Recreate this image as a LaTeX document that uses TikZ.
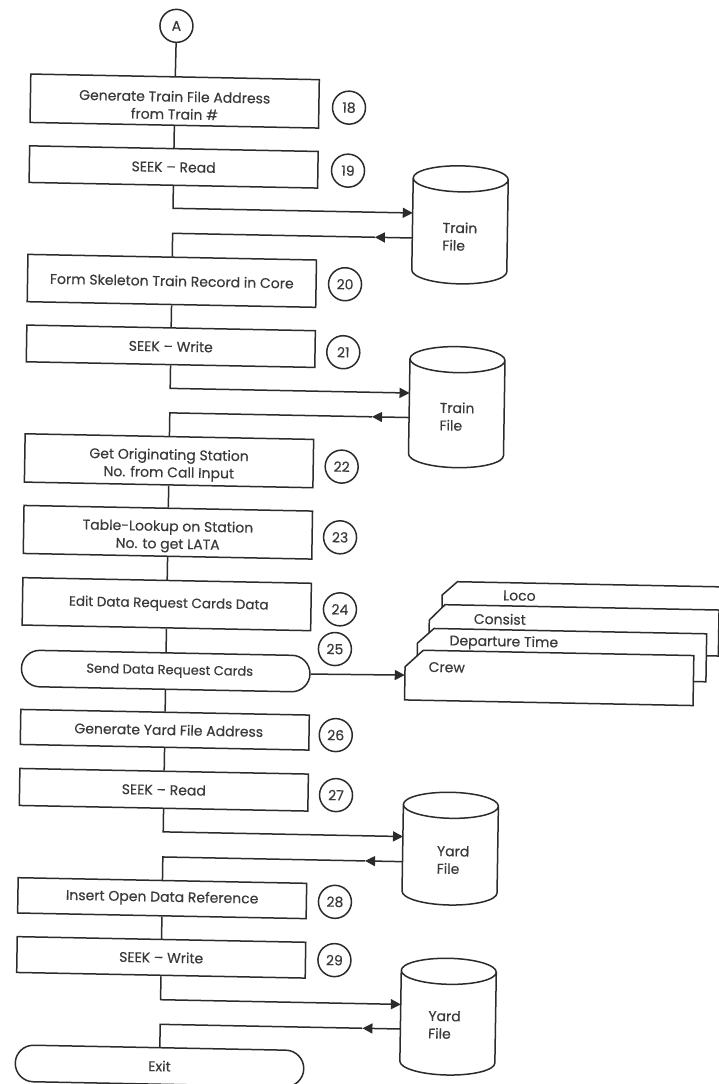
\documentclass[tikz,border=0pt]{standalone}
\usepackage{fontspec}
\setmainfont[FakeBold=0.35]{Poppins}
\usetikzlibrary{arrows.meta,shapes.misc}
\definecolor{ink}{HTML}{2B2B2B}
\definecolor{txt}{HTML}{3A3A3A}
\tikzset{
  x=1pt,y=-1pt,
  lbl/.style={font=\fontsize{14}{17.6}\selectfont,text=txt,align=center},
  box/.style={lbl,draw=ink,line width=1.5pt,minimum width=288.5pt,inner sep=0pt,transform shape},
  term/.style={box,rounded rectangle},
  num/.style={lbl,circle,draw=ink,line width=1.5pt,minimum size=33pt,inner sep=0pt,transform shape},
  cylbox/.style={minimum width=95pt,inner sep=0pt,transform shape},
  cardbox/.style={minimum width=288.5pt,minimum height=50pt,inner sep=0pt,transform shape},
  outline/.style={draw=ink,line width=1.5pt,line join=miter,fill=white},
  cyltxt/.style={lbl,align=left,inner sep=0pt,transform shape},
  cardtxt/.style={lbl,inner sep=0pt,transform shape},
  conn/.style={draw=ink,line width=1.5pt,line join=miter},
  head/.style={conn,-{Triangle[length=10pt,width=10pt,fill=ink]}}
}
\newcommand\tallline{\rule{0pt}{19pt}}
\newcommand\filecyl[4]{%
  \node[cylbox,minimum height=#4pt] (#1) at (#2,#3) {};
  \pgfmathsetmacro\hh{#4/2-13}
  \draw[outline,shift={(#2,#3)}] (-47.5,-\hh) arc[start angle=180,end angle=0,x radius=47.5pt,y radius=13pt]
    -- (47.5,\hh) arc[start angle=0,end angle=-180,x radius=47.5pt,y radius=13pt] -- cycle
    (-47.5,-\hh) arc[start angle=180,end angle=360,x radius=47.5pt,y radius=13pt];
}
\begin{document}
\begin{tikzpicture}
\useasboundingbox (0,0) rectangle (719,1084);
\begin{scope}[cm={1,-.0195,.0157,1,(8.51pt,7.02pt)}]
% process boxes
\node[num] (a) at (168.4,29.6) {A};
\node[box,minimum height=48.4pt] (s18) at (167.8,104.8) {\tallline Generate Train File Address\\from Train \#};
\node[box,minimum height=36.6pt] (s19) at (167.8,170.7) {SEEK -- Read};
\node[box,minimum height=47.3pt] (s20) at (167.8,284.6) {Form Skeleton Train Record in Core};
\node[box,minimum height=36.7pt] (s21) at (167.8,350) {SEEK -- Write};
\node[box,minimum height=48.3pt] (s22) at (167.8,464.5) {\tallline Get Originating Station\\No. from Call Input};
\node[box,minimum height=48pt] (s23) at (167.8,536) {\tallline Table-Lookup on Station\\No. to get LATA};
\node[box,minimum height=47.4pt,font=\fontsize{13.5}{17.6}\selectfont] (s24) at (167.8,607.9) {\hspace*{4pt}Edit Data Request Cards Data};
\node[term,minimum height=36.4pt,font=\fontsize{13}{17.6}\selectfont] (s25) at (167.8,674.8) {\hspace*{8pt}Send Data Request Cards};
\node[box,minimum height=35pt] (s26) at (167.8,733.5) {\hspace*{8pt}Generate Yard File Address};
\node[box,minimum height=37pt] (s27) at (167.8,793.5) {SEEK -- Read};
\node[box,minimum height=35.3pt] (s28) at (167.8,901.9) {Insert Open Data Reference};
\node[box,minimum height=35.8pt] (s29) at (167.8,961.1) {SEEK -- Write};
\node[term,minimum height=36.5pt] (exit) at (167.8,1069.7) {Exit};
% step numbers
\node[num] (n18) at (342.2,108) {18};
\node[num] (n19) at (342.2,171) {19};
\node[num] (n20) at (341,284.6) {20};
\node[num] (n21) at (340.3,352.6) {21};
\node[num] (n22) at (340.5,467) {22};
\node[num] (n23) at (340,537.7) {23};
\node[num] (n24) at (341,609.7) {24};
\node[num] (n25) at (336.6,649.5) {25};
\node[num] (n26) at (338.8,735.5) {26};
\node[num] (n27) at (340,795.5) {27};
\node[num] (n28) at (340.6,902.2) {28};
\node[num] (n29) at (341,960.5) {29};
% files
\filecyl{c1}{455}{223}{118}
\filecyl{c2}{454.6}{405.3}{121}
\filecyl{c3}{455}{846.8}{112.7}
\filecyl{c4}{455.5}{1014.8}{116.7}
\node[cyltxt] (t1) at (455,234.7) {Train\\File};
\node[cyltxt] (t2) at (455,414.7) {Train\\File};
\node[cyltxt] (t3) at (458,858) {Yard\\File};
\node[cyltxt] (t4) at (452,1023) {Yard\\File};
% cards
\draw[outline] (443,612) -- (443,593.4) -- (458,579.8) -- (720,579.8);
\node[cardtxt] (tloco) at (520.2,592.6) {Loco};
\draw[outline] (430.5,649) -- (430.5,618.7) -- (446,603) -- (720,603) -- (720,649) -- cycle;
\node[cardtxt] (tcons) at (501,616.3) {Consist};
\draw[outline] (419,675) -- (419,642) -- (435.4,627) -- (708,627) -- (708,675) -- cycle;
\node[cardtxt] (tdep) at (505.4,640) {Departure Time};
\draw[outline] (407,699) -- (407,665.8) -- (425,649) -- (695.5,649) -- (695.5,699) -- cycle;
\node[cardbox] (crew) at (551.2,674) {};
\node[cardtxt] (tcrew) at (448.7,665.6) {Crew};
% elbows and ends
\coordinate (e19) at (167.8,212);   \coordinate (c1i) at (407.5,212);
\coordinate (c1o) at (407.5,237);   \coordinate (c1m) at (370,237);   \coordinate (e20) at (167.8,237);
\coordinate (e21) at (167.8,392);   \coordinate (c2i) at (407.1,392);
\coordinate (c2o) at (407.1,416.5); \coordinate (c2m) at (370,416.5); \coordinate (e22) at (167.8,416.5);
\coordinate (e27) at (167.8,835.4); \coordinate (c3i) at (407.5,835.4);
\coordinate (c3o) at (407.5,860.5); \coordinate (c3m) at (370,860.5); \coordinate (e28) at (167.8,860.5);
\coordinate (e29) at (167.8,1003.2);\coordinate (c4i) at (408,1003.2);
\coordinate (c4o) at (408,1027.8);  \coordinate (c4m) at (370,1027.8);\coordinate (e30) at (167.8,1027.8);
% connectors
\draw[conn] (a) -- (s18);
\draw[conn] (s18) -- (s19);
\draw[head] (s19.south) -- (e19) -- (c1i);
\draw[head] (c1o) -- (c1m);
\draw[conn] (c1m) -- (e20) -- (s20.north);
\draw[conn] (s20) -- (s21);
\draw[head] (s21.south) -- (e21) -- (c2i);
\draw[head] (c2o) -- (c2m);
\draw[conn] (c2m) -- (e22) -- (s22.north);
\draw[conn] (s22) -- (s23);
\draw[conn] (s23) -- (s24);
\draw[conn] (s24) -- (s25);
\draw[head] (s25.east) -- (crew.west);
\draw[conn] (s25) -- (s26);
\draw[conn] (s26) -- (s27);
\draw[head] (s27.south) -- (e27) -- (c3i);
\draw[head] (c3o) -- (c3m);
\draw[conn] (c3m) -- (e28) -- (s28.north);
\draw[conn] (s28) -- (s29);
\draw[head] (s29.south) -- (e29) -- (c4i);
\draw[head] (c4o) -- (c4m);
\draw[conn] (c4m) -- (e30) -- (exit.north);
\end{scope}
\end{tikzpicture}
\end{document}
